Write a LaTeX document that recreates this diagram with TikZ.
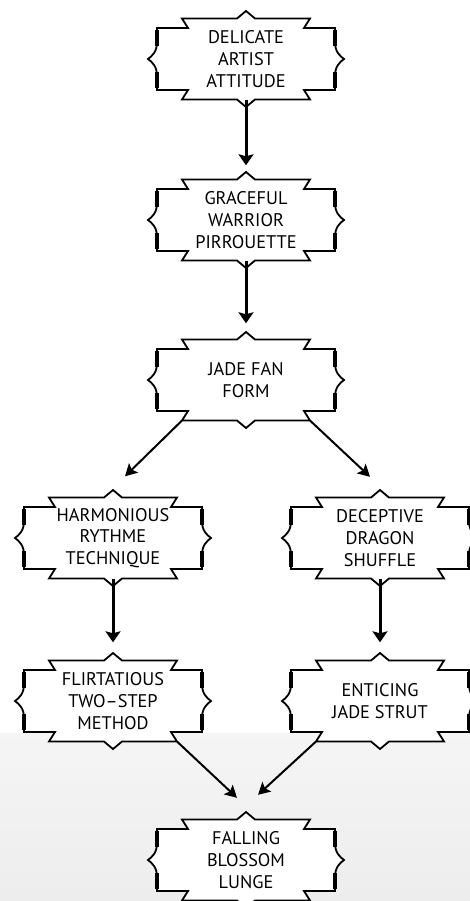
\documentclass[tikz,border=0pt]{standalone}
\usepackage{fontspec}
\setmainfont{PT Sans}
\usetikzlibrary{arrows.meta,backgrounds,calc}
\tikzset{
  box/.style={align=center, minimum width=128pt, minimum height=81pt, inner sep=0pt,
    font=\fontsize{18.3}{21.8}\selectfont},
  frameline/.style={draw=black, fill=white, line width=1.8pt, line join=miter},
  braceline/.style={draw=black, line width=3.2pt},
  varr/.style={line width=3pt, -{Stealth[length=11pt,width=15pt,inset=2pt]}},
  darr/.style={line width=2pt, -{Stealth[length=12pt,width=13pt,inset=2.5pt]}},
}
\newcommand\fancyframe[1]{%
 \begin{scope}[shift={(#1.center)}]
  \path[frameline] (-89,31) -- (-58,31) -- (-64,40.5) -- (-9,40.5) -- (0,48) -- (9,40.5) -- (64,40.5) -- (58,31) -- (89,31)
   -- (89,17) .. controls (89,7) and (94,3) .. (98,0) .. controls (94,-3) and (89,-7) .. (89,-17) -- (89,-31)
   -- (58,-31) -- (64,-40.5) -- (9,-40.5) -- (0,-48) -- (-9,-40.5) -- (-64,-40.5) -- (-58,-31) -- (-89,-31)
   -- (-89,-17) .. controls (-89,-7) and (-94,-3) .. (-98,0) .. controls (-94,3) and (-89,7) .. (-89,17) -- cycle;
  \draw[braceline] (89,29) -- (89,13) (89,-13) -- (89,-29) (-89,29) -- (-89,13) (-89,-13) -- (-89,-29);
 \end{scope}}
\begin{document}
\begin{tikzpicture}[x=1pt,y=1pt]
\useasboundingbox (0,0) rectangle (470,-901);
\clip (0,0) rectangle (470,-901);
\node[box] (n1) at (246,-59) {DELICATE\\ARTIST\\ATTITUDE};
\node[box] (n2) at (246,-220) {GRACEFUL\\WARRIOR\\PIRROUETTE};
\node[box] (n3) at (246,-380) {JADE FAN\\FORM};
\node[box] (n4) at (113,-538) {HARMONIOUS\\RYTHME\\TECHNIQUE};
\node[box] (n5) at (380,-538) {DECEPTIVE\\DRAGON\\SHUFFLE};
\node[box] (n6) at (113,-701) {FLIRTATIOUS\\TWO–STEP\\METHOD};
\node[box] (n7) at (380,-701) {ENTICING\\JADE STRUT};
\node[box] (n8) at (246,-860) {FALLING\\BLOSSOM\\LUNGE};
\begin{scope}[on background layer]
  \shade[top color=black!4, bottom color=black!7] (0,-733) rectangle (470,-901);
  \fancyframe{n1}\fancyframe{n2}\fancyframe{n3}\fancyframe{n4}
  \fancyframe{n5}\fancyframe{n6}\fancyframe{n7}\fancyframe{n8}
\end{scope}
\draw[varr, shorten >=14pt] (n1.south) -- (n2.north);
\draw[varr, shorten >=16pt] (n2.south) -- (n3.north);
\draw[varr, shorten >=18pt] (n4.south) -- (n6.north);
\draw[varr, shorten >=18pt] (n5.south) -- (n7.north);
\draw[darr] (n3.south west) -- ([shift={(12,21)}]n4.north);
\draw[darr] (n3.south east) -- ([shift={(-10,20.5)}]n5.north);
\draw[darr] (n6.south east) -- ([shift={(-9,21.5)}]n8.north);
\draw[darr] (n7.south west) -- ([shift={(12,24.5)}]n8.north);
\end{tikzpicture}
\end{document}
